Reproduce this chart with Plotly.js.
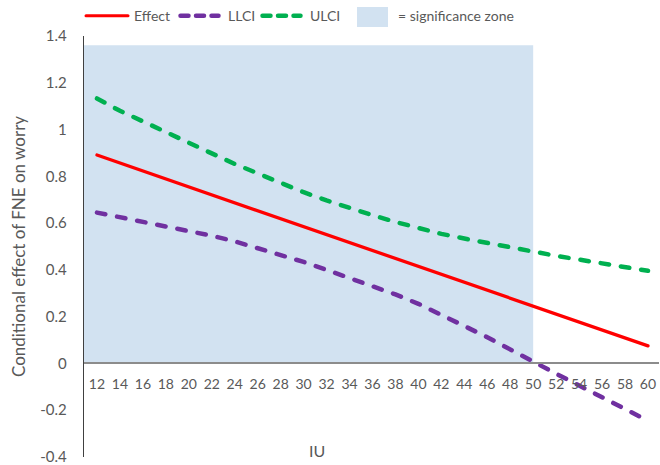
<!DOCTYPE html>
<html><head><meta charset="utf-8">
<script src="https://cdn.plot.ly/plotly-3.0.1.min.js"></script>
<style>html,body{margin:0;padding:0;background:#fff}#chart{width:660px;height:465px}</style>
</head><body><div id="chart"></div>
<script>
// ---- data ----
const iu     = [12,14,16,18,20,22,24,26,28,30,32,34,36,38,40,42,44,46,48,50,52,54,56,58,60];
const effect = [0.891,0.857,0.823,0.789,0.755,0.721,0.687,0.653,0.619,0.585,0.551,0.517,0.483,0.449,0.415,0.381,0.347,0.313,0.279,0.245,0.211,0.177,0.143,0.109,0.075];
const llci   = [0.645,0.626,0.606,0.587,0.567,0.546,0.522,0.494,0.466,0.434,0.400,0.365,0.332,0.295,0.255,0.210,0.160,0.112,0.062,0.008,-0.044,-0.094,-0.144,-0.194,-0.245];
const ulci   = [1.133,1.080,1.035,0.988,0.944,0.898,0.853,0.811,0.770,0.732,0.697,0.664,0.634,0.605,0.578,0.554,0.534,0.515,0.496,0.478,0.460,0.444,0.428,0.411,0.396];
const zoneTop = 1.36;
const seriesNames = ['Effect', 'LLCI', 'ULCI'];
const zoneName = '= significance zone';
const xTickText = iu.map(String);
const yTickVals = [-0.4,-0.2,0,0.2,0.4,0.6,0.8,1,1.2,1.4];
const yTickText = ['-0.4','-0.2','0','0.2','0.4','0.6','0.8','1','1.2','1.4'];

const xRange = [10.87, 60.96];
const yRange = [-0.4, 1.4];

// significance zone: IU values where LLCI stays above zero
let zoneEnd = iu[0];
for (let i = 0; i < iu.length; i++) if (llci[i] > 0) zoneEnd = iu[i];
const zoneX = [xRange[0], zoneEnd];
const zoneY = [zoneTop, zoneTop];

const FONT = 'Lato, "Open Sans", sans-serif';
const GREY = '#595959';
const RED = '#FF0000', PURPLE = '#7030A0', GREEN = '#00B050', ZONE = '#D2E2F1';
const DASH = '8.5px,12px';

const traces = [
  {x: zoneX, y: zoneY, type: 'scatter', mode: 'lines', fill: 'tozeroy',
   fillcolor: ZONE, line: {width: 0, color: ZONE}, name: zoneName, hoverinfo: 'skip'},
  {x: iu, y: ulci, type: 'scatter', mode: 'lines', name: seriesNames[2],
   line: {color: GREEN, width: 4.5, dash: DASH}},
  {x: iu, y: llci, type: 'scatter', mode: 'lines', name: seriesNames[1],
   line: {color: PURPLE, width: 4.5, dash: DASH}},
  {x: iu, y: effect, type: 'scatter', mode: 'lines', name: seriesNames[0],
   line: {color: RED, width: 3.3}}
];

// legend drawn in the top margin (pixel layout converted to paper fractions)
const L = 84, PW = 575, B = 457, PH = 421;
const px = v => (v - L) / PW;
const py = v => (B - v) / PH;
const legY = py(15.7);
const legFont = {family: FONT, size: 14, color: GREY};
const shapes = [
  {type: 'line', xref: 'paper', yref: 'paper', x0: px(86), x1: px(128), y0: legY, y1: legY,
   line: {color: RED, width: 3}},
  {type: 'line', xref: 'paper', yref: 'paper', x0: px(180.5), x1: px(218.5), y0: legY, y1: legY,
   line: {color: PURPLE, width: 4.5, dash: '8px,7.5px'}},
  {type: 'line', xref: 'paper', yref: 'paper', x0: px(262.5), x1: px(300.5), y0: legY, y1: legY,
   line: {color: GREEN, width: 4.5, dash: '8px,7.5px'}},
  {type: 'rect', xref: 'paper', yref: 'paper', x0: px(357), x1: px(388), y0: py(27), y1: py(7),
   fillcolor: ZONE, line: {width: 0}}
];
const legText = (t, x) => ({text: t, xref: 'paper', yref: 'paper', x: px(x), y: legY,
  xanchor: 'left', yanchor: 'middle', showarrow: false, font: legFont});

const layout = {
  width: 660, height: 465,
  margin: {l: 84, r: 1, t: 36, b: 8, pad: 0},
  paper_bgcolor: '#ffffff', plot_bgcolor: '#ffffff',
  font: {family: FONT, size: 13, color: GREY},
  showlegend: false,
  xaxis: {
    type: 'linear', range: xRange, anchor: 'free',
    position: (0 - yRange[0]) / (yRange[1] - yRange[0]),
    tickmode: 'array', tickvals: iu, ticktext: xTickText,
    showgrid: false, zeroline: false, showline: true, linecolor: '#8C8C8C', linewidth: 2,
    ticks: '', ticklabelstandoff: 8,
    tickfont: {family: FONT, size: 14, color: GREY}
  },
  yaxis: {
    range: yRange, tickmode: 'array', tickvals: yTickVals, ticktext: yTickText,
    showgrid: false, zeroline: false, showline: true, linecolor: '#404040', linewidth: 1.3,
    ticks: '', ticklabelstandoff: 13, ticklabeloverflow: 'allow',
    tickfont: {family: FONT, size: 15, color: GREY},
    title: {text: 'Conditional effect of FNE on worry', font: {family: FONT, size: 17, color: GREY}, standoff: 10}
  },
  shapes: shapes,
  annotations: [
    legText(seriesNames[0], 132),
    legText(seriesNames[1], 226),
    legText(seriesNames[2], 308),
    legText(zoneName, 396),
    {text: 'IU', xref: 'x', yref: 'paper', x: 31.2, y: py(450), showarrow: false,
     font: {family: FONT, size: 16, color: GREY}, xanchor: 'center', yanchor: 'middle'}
  ]
};

Plotly.newPlot('chart', traces, layout, {displayModeBar: false, staticPlot: true}).then(function () {
  document.querySelectorAll('.js-line, .shapelayer path').forEach(function (p) {
    p.style.strokeLinecap = 'round';
  });
});
</script>
</body></html>
